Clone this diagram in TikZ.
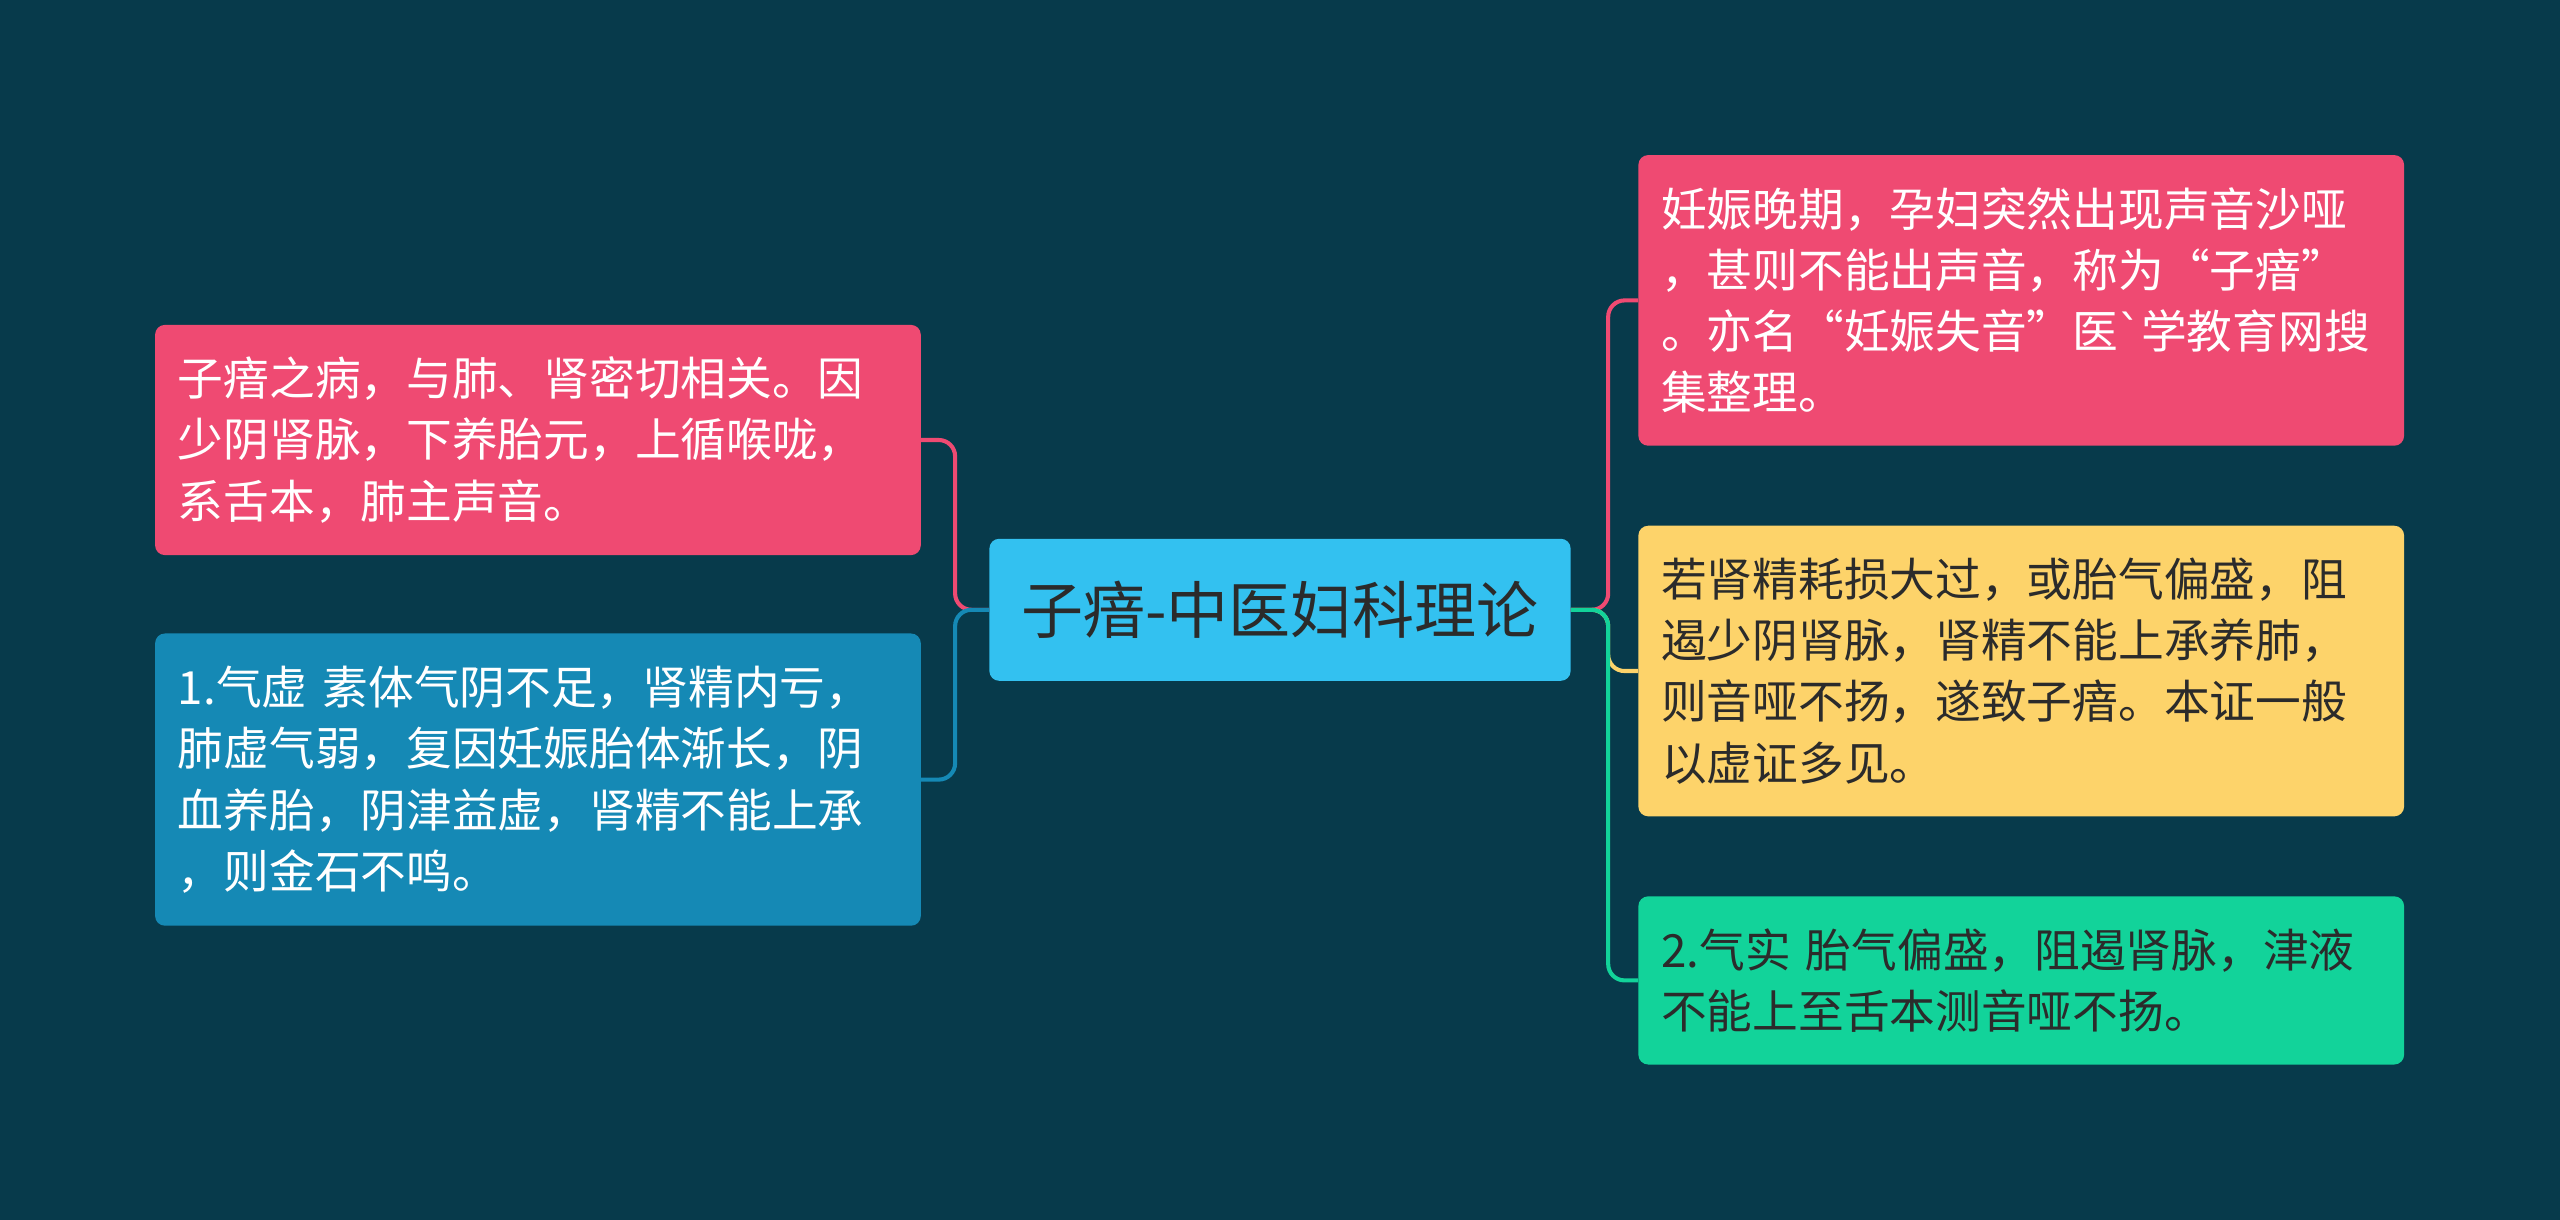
\documentclass[tikz,border=0pt]{standalone}
\usepackage{fontspec}
\setmainfont{Noto Sans CJK SC}
\newfontfamily\gravefont{DejaVu Sans}
\begin{document}
\begin{tikzpicture}[x=1pt,y=-1pt,
 box/.style={rounded corners=6pt,minimum width=469pt,text width=441pt,align=left,inner xsep=14pt,font=\fontsize{28}{37.5}\selectfont},
 conn/.style={line width=2.5pt,rounded corners=10pt}]
\definecolor{bg}{HTML}{073A4B}
\definecolor{pk}{HTML}{EF4A72}
\definecolor{bl}{HTML}{1589B5}
\definecolor{yl}{HTML}{FDD36A}
\definecolor{gr}{HTML}{12D39A}
\definecolor{cb}{HTML}{33C1F0}
\definecolor{dk}{HTML}{2B2B2B}
\fill[bg] (0,0) rectangle (1568,747);
\useasboundingbox (0,0) rectangle (1568,747);
\node[rounded corners=6pt,fill=cb,minimum width=356pt,minimum height=87pt,text=dk,font=\fontsize{38}{44}\selectfont] (c) at (784,373.5) {子瘖-中医妇科理论};
\node[box,fill=pk,text=white,minimum height=141pt] (l1) at (329.5,269.5) {子瘖之病，与肺、肾密切相关。因\\少阴肾脉，下养胎元，上循喉咙，\\系舌本，肺主声音。};
\node[box,fill=bl,text=white,minimum height=179pt] (l2) at (329.5,477.5) {1.气虚 素体气阴不足，肾精内亏，\\肺虚气弱，复因妊娠胎体渐长，阴\\血养胎，阴津益虚，肾精不能上承\\，则金石不鸣。};
\node[box,fill=pk,text=white,minimum height=178pt] (r1) at (1238,184) {妊娠晚期，孕妇突然出现声音沙哑\\，甚则不能出声音，称为“子瘖”\\。亦名“妊娠失音”医{\gravefont\symbol{96}}学教育网搜\\集整理。};
\node[box,fill=yl,text=dk,minimum height=178pt] (r2) at (1238,411) {若肾精耗损大过，或胎气偏盛，阻\\遏少阴肾脉，肾精不能上承养肺，\\则音哑不扬，遂致子瘖。本证一般\\以虚证多见。};
\node[box,fill=gr,text=dk,minimum height=103pt] (r3) at (1238,600.5) {2.气实 胎气偏盛，阻遏肾脉，津液\\不能上至舌本测音哑不扬。};
\draw[conn,pk] (c.west) -- (585,373.5) |- (l1.east);
\draw[conn,bl] (c.west) -- (585,373.5) |- (l2.east);
\draw[conn,pk] (c.east) -- (985,373.5) |- (r1.west);
\draw[conn,yl] (c.east) -- (985,373.5) |- (r2.west);
\draw[conn,gr] (c.east) -- (985,373.5) |- (r3.west);
\end{tikzpicture}
\end{document}
